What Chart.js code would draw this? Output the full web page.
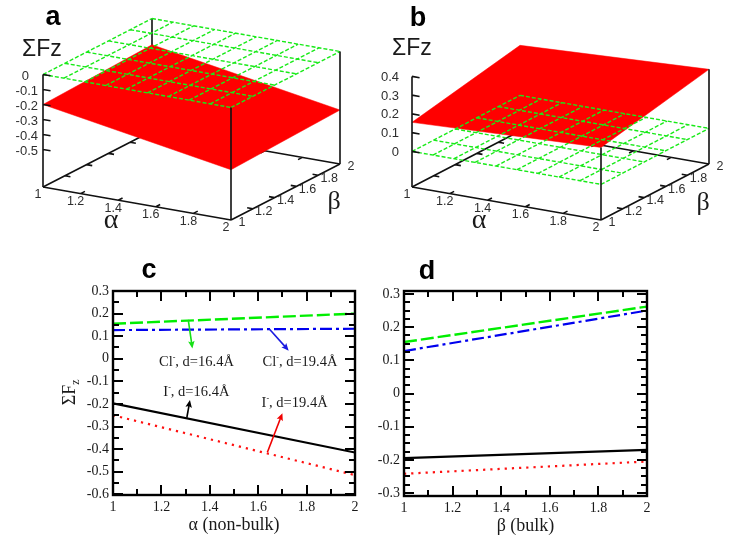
<!DOCTYPE html>
<html><head><meta charset="utf-8">
<script src="https://cdn.jsdelivr.net/npm/chart.js@4/dist/chart.umd.min.js"></script>
<style>
html,body{margin:0;padding:0;background:#fff;width:729px;height:540px;overflow:hidden}
.p{position:absolute}
</style></head><body>
<div class="p" style="left:0;top:0;width:365px;height:240px"><canvas id="ca" width="365" height="240"></canvas></div>
<div class="p" style="left:365px;top:0;width:364px;height:240px"><canvas id="cb" width="364" height="240"></canvas></div>
<div class="p" style="left:60px;top:260px;width:310px;height:280px"><canvas id="cc" width="310" height="280"></canvas></div>
<div class="p" style="left:370px;top:260px;width:300px;height:280px"><canvas id="cd" width="300" height="280"></canvas></div>
<script>
// ---- data ----
const gridTicks3D = [1, 1.2, 1.4, 1.6, 1.8, 2];
const zTicksA = [0, -0.1, -0.2, -0.3, -0.4, -0.5];
const zTicksB = [0, 0.1, 0.2, 0.3, 0.4];
// surface heights at (α,β) = (1,1), (2,1), (2,2), (1,2)
const surfaceA = [-0.2, -0.415, -0.39, -0.175];
const surfaceB = [0.155, 0.197, 0.315, 0.267];
const gridPlaneZ = 0;
const gridCellsAlpha = 9, gridCellsBeta = 5;

const alphaValues = [1, 2];
const cBlack = [-0.197, -0.415];
const cRed   = [-0.25, -0.515];
const cGreen = [0.155, 0.2];
const cBlue  = [0.127, 0.133];
const betaValues = [1, 2];
const dBlack = [-0.195, -0.17];
const dRed   = [-0.242, -0.205];
const dGreen = [0.155, 0.262];
const dBlue  = [0.128, 0.25];
const xTicks = [1, 1.2, 1.4, 1.6, 1.8, 2];
const xMinorTicks = [1, 1.1, 1.2, 1.3, 1.4, 1.5, 1.6, 1.7, 1.8, 1.9, 2];
const yTicksC = [-0.6, -0.5, -0.4, -0.3, -0.2, -0.1, 0, 0.1, 0.2, 0.3];
const yTicksD = [-0.3, -0.2, -0.1, 0, 0.1, 0.2, 0.3];

// ---- 3D panels ----
const SANS = '"Liberation Sans", Arial, sans-serif';
const SERIF = '"Liberation Serif", "Times New Roman", serif';
const GREEN3D = '#18ea18', RED = '#ff0000';

function panel3D(id, cfg) {
  const P = (a, b, z) => ({
    x: cfg.origin[0] + (a - 1) * cfg.vA[0] + (b - 1) * cfg.vB[0],
    y: cfg.origin[1] + (a - 1) * cfg.vA[1] + (b - 1) * cfg.vB[1] - (z - cfg.zMin) * cfg.zScale
  });
  const gap = { x: null, y: null };
  const zb = cfg.zMin, tA = 0.03, tB = 0.04, tZ = 0.04;
  const back = [];
  [[P(1,1,zb), P(1,2,zb)], [P(1,2,zb), P(2,2,zb)]].forEach(s => back.push(s[0], s[1], gap));
  if (cfg.backTop !== null) back.push(P(1,2,zb), P(1,2,cfg.backTop), gap);
  gridTicks3D.forEach(v => {
    if (v > 1 && v < 2) {
      const k = P(1, v, zb); back.push(k, { x: k.x + tA*cfg.vA[0], y: k.y + tA*cfg.vA[1] }, gap);
      const m = P(v, 2, zb); back.push(m, { x: m.x - tB*cfg.vB[0], y: m.y - tB*cfg.vB[1] }, gap);
    }
  });
  const front = [];
  front.push(P(1,1,zb), P(2,1,zb), gap, P(2,1,zb), P(2,2,zb), gap);
  front.push(P(1,1,zb), P(1,1,cfg.leftTop), gap);
  front.push(P(2,1,zb), P(2,1,cfg.frontTop), gap);
  front.push(P(2,2,zb), P(2,2,cfg.rightTop), gap);
  cfg.zTicks.forEach(z => {
    const k = P(1,1,z); front.push(k, { x: k.x + tZ*cfg.vA[0], y: k.y + tZ*cfg.vA[1] }, gap);
  });
  gridTicks3D.forEach(v => {
    if (v > 1 && v < 2) {
      const k = P(v, 1, zb); front.push(k, { x: k.x + tB*cfg.vB[0], y: k.y + tB*cfg.vB[1] }, gap);
      const m = P(2, v, zb); front.push(m, { x: m.x - tA*cfg.vA[0], y: m.y - tA*cfg.vA[1] }, gap);
    }
  });
  const grid = [];
  for (let i = 0; i <= gridCellsAlpha; i++) {
    const a = 1 + i / gridCellsAlpha; grid.push(P(a,1,gridPlaneZ), P(a,2,gridPlaneZ), gap);
  }
  for (let j = 0; j <= gridCellsBeta; j++) {
    const b = 1 + j / gridCellsBeta; grid.push(P(1,b,gridPlaneZ), P(2,b,gridPlaneZ), gap);
  }
  const S = cfg.surface;
  const surf = [P(1,1,S[0]), P(2,1,S[1]), P(2,2,S[2]), P(1,2,S[3]), P(1,1,S[0])];

  const base = { showLine: true, pointRadius: 0, pointHoverRadius: 0, tension: 0 };
  const labels3D = {
    id: 'labels3D',
    afterDraw(ch) {
      const c = ch.ctx, X = ch.scales.x, Y = ch.scales.y;
      const put = (txt, px, py, font, color, align, bl) => {
        c.font = font; c.fillStyle = color; c.textAlign = align || 'center'; c.textBaseline = bl || 'middle';
        c.fillText(txt, X.getPixelForValue(px), Y.getPixelForValue(py));
      };
      c.save();
      const tf = '12.5px ' + SANS, col = '#2e2e2e';
      gridTicks3D.forEach(v => {
        const p = P(v, 1, zb); put(String(v), p.x - 5, p.y + 8, tf, col);
        const q = P(2, v, zb); put(String(v), q.x + 11, q.y + 3, tf, col);
      });
      cfg.zTicks.forEach(z => {
        const p = P(1,1,z);
        const x = z === 0 ? cfg.zeroX : cfg.zLabelRight;
        put(String(z), x, p.y + cfg.zLabelDy, '13px ' + SANS, col, 'right');
      });
      put(cfg.letter, cfg.letterPos[0], cfg.letterPos[1], 'bold 27px ' + SANS, '#000');
      put('ΣFz', cfg.titlePos[0], cfg.titlePos[1], '23px ' + SANS, '#1a1a1a', 'left', 'alphabetic');
      put('α', cfg.alphaPos[0], cfg.alphaPos[1], '28px ' + SERIF, '#1a1a1a');
      put('β', cfg.betaPos[0], cfg.betaPos[1], '26px ' + SERIF, '#1a1a1a');
      c.restore();
    }
  };
  new Chart(document.getElementById(id), {
    type: 'scatter',
    data: { datasets: [
      { ...base, data: front, borderColor: '#111', borderWidth: 1.6, order: 1 },
      { ...base, data: grid, borderColor: GREEN3D, borderWidth: 1.4, borderDash: [4, 2], order: 2 },
      { ...base, data: surf, borderColor: RED, borderWidth: 0.5, backgroundColor: RED, fill: 'shape', order: 3 },
      { ...base, data: back, borderColor: '#111', borderWidth: 1.6, order: 4 }
    ]},
    options: {
      responsive: false, animation: false,
      layout: { padding: 0 },
      plugins: { legend: { display: false }, tooltip: { enabled: false } },
      scales: {
        x: { type: 'linear', display: false, min: cfg.xr[0], max: cfg.xr[1] },
        y: { type: 'linear', display: false, min: 0, max: 240, reverse: true }
      }
    },
    plugins: [labels3D]
  });
}

panel3D('ca', {
  origin: [43, 187], vA: [188, 33], vB: [109, -56], zMin: -0.75, zScale: 150,
  zTicks: zTicksA, surface: surfaceA, xr: [0, 365],
  backTop: 0, leftTop: 0, frontTop: 0, rightTop: 0,
  zLabelRight: 38, zeroX: 29, zLabelDy: 2,
  letter: 'a', letterPos: [53, 18], titlePos: [22, 56], alphaPos: [111, 221], betaPos: [334, 202]
});
panel3D('cb', {
  origin: [412, 187], vA: [189, 33], vB: [108, -56], zMin: -0.19, zScale: 187.5,
  zTicks: zTicksB, surface: surfaceB, xr: [365, 729],
  backTop: null, leftTop: 0.4, frontTop: surfaceB[1], rightTop: surfaceB[2],
  zLabelRight: 399, zeroX: 399, zLabelDy: 1,
  letter: 'b', letterPos: [418, 19], titlePos: [392, 55], alphaPos: [479, 221], betaPos: [703, 203]
});

// ---- line panels ----
const yMinorC = [-0.6,-0.55,-0.5,-0.45,-0.4,-0.35,-0.3,-0.25,-0.2,-0.15,-0.1,-0.05,0,0.05,0.1,0.15,0.2,0.25,0.3];
const yMinorD = [-0.3,-0.275,-0.25,-0.225,-0.2,-0.175,-0.15,-0.125,-0.1,-0.075,-0.05,-0.025,0,0.025,0.05,0.075,0.1,0.125,0.15,0.175,0.2,0.225,0.25,0.275,0.3];

const annotC = [
  { t: ['Cl', ', d=16.4Å'], x: 1.19, y: -0.031 },
  { t: ['Cl', ', d=19.4Å'], x: 1.618, y: -0.031 },
  { t: ['I', ', d=16.4Å'], x: 1.208, y: -0.163 },
  { t: ['I', ', d=19.4Å'], x: 1.614, y: -0.215 }
];
const arrowsC = [
  { c: '#16e016', from: [1.311, 0.172], to: [1.328, 0.046] },
  { c: '#1a1ae0', from: [1.646, 0.132], to: [1.726, 0.036] },
  { c: '#000000', from: [1.305, -0.261], to: [1.318, -0.183] },
  { c: '#f00000', from: [1.638, -0.414], to: [1.70, -0.241] }
];

function linePanel(id, cfg) {
  const xs = cfg.xs;
  const mk = (vals, color, dash, w, ord) => ({
    data: xs.map((x, i) => ({ x, y: vals[i] })), showLine: true, pointRadius: 0, borderColor: color,
    borderWidth: w, borderDash: dash, order: ord, tension: 0
  });
  const frame = {
    id: 'frame',
    afterDraw(ch) {
      const c = ch.ctx, A = ch.chartArea, X = ch.scales.x, Y = ch.scales.y;
      c.save();
      c.setLineDash([]);
      c.strokeStyle = '#000000';
      c.lineWidth = 2.4;
      c.strokeRect(A.left, A.top, A.right - A.left, A.bottom - A.top);
      // inward ticks, painted last over the frame
      c.lineWidth = 2;
      const seg = (x0, y0, x1, y1) => { c.beginPath(); c.moveTo(x0, y0); c.lineTo(x1, y1); c.stroke(); };
      xMinorTicks.forEach((v, i) => {
        const p = Math.round(X.getPixelForValue(v)), l = i % 2 === 0 ? 10 : 6;
        seg(p, A.bottom, p, A.bottom - l);
        seg(p, A.top, p, A.top + l);
      });
      cfg.yMinor.forEach(v => {
        const p = Math.round(Y.getPixelForValue(v));
        const l = Math.abs(v * 10 - Math.round(v * 10)) < 1e-6 ? 10 : 6;
        seg(A.left, p, A.left + l, p);
        seg(A.right, p, A.right - l, p);
      });
      // arrows
      (cfg.arrows || []).forEach(a => {
        const x0 = X.getPixelForValue(a.from[0]), y0 = Y.getPixelForValue(a.from[1]);
        const x1 = X.getPixelForValue(a.to[0]), y1 = Y.getPixelForValue(a.to[1]);
        const ang = Math.atan2(y1 - y0, x1 - x0);
        c.strokeStyle = a.c; c.fillStyle = a.c; c.lineWidth = 1.6;
        c.beginPath(); c.moveTo(x0, y0); c.lineTo(x1 - 4 * Math.cos(ang), y1 - 4 * Math.sin(ang)); c.stroke();
        c.beginPath(); c.moveTo(x1, y1);
        c.lineTo(x1 - 8 * Math.cos(ang - 0.42), y1 - 8 * Math.sin(ang - 0.42));
        c.lineTo(x1 - 6 * Math.cos(ang), y1 - 6 * Math.sin(ang));
        c.lineTo(x1 - 8 * Math.cos(ang + 0.42), y1 - 8 * Math.sin(ang + 0.42));
        c.closePath(); c.fill();
      });
      // annotations
      c.fillStyle = '#1a1a1a'; c.textBaseline = 'alphabetic'; c.textAlign = 'left';
      (cfg.annot || []).forEach(a => {
        let px = X.getPixelForValue(a.x); const py = Y.getPixelForValue(a.y);
        c.font = '14.5px ' + SERIF; c.fillText(a.t[0], px, py); px += c.measureText(a.t[0]).width;
        c.font = '8px ' + SERIF; c.fillText('-', px, py - 6); px += c.measureText('-').width;
        c.font = '14.5px ' + SERIF; c.fillText(a.t[1], px, py);
      });
      // panel letter
      c.fillStyle = '#000'; c.textAlign = 'center'; c.textBaseline = 'middle';
      c.font = 'bold 27px ' + SANS; c.fillText(cfg.letter, cfg.letterPos[0], cfg.letterPos[1]);
      // rotated ΣFz title
      if (cfg.yTitleX) {
        c.save();
        c.translate(cfg.yTitleX, (A.top + A.bottom) / 2 - 1);
        c.rotate(-Math.PI / 2);
        c.fillStyle = '#1a1a1a'; c.textAlign = 'left'; c.textBaseline = 'alphabetic';
        c.font = '18px ' + SERIF; const w = c.measureText('ΣF').width;
        c.fillText('ΣF', -w / 2 - 3, 6);
        c.font = '12px ' + SERIF; c.fillText('z', w / 2 - 3, 10);
        c.restore();
      }
      c.restore();
    }
  };
  const fix = vals => s => { s.ticks = vals.map(v => ({ value: v })); };
  new Chart(document.getElementById(id), {
    type: 'scatter',
    data: { datasets: [
      mk(cfg.black, '#000000', [], 2.2, 1),
      mk(cfg.red, '#ff1010', [2.2, 5], 2.2, 2),
      mk(cfg.green, '#00ee00', [13, 4], 2.4, 3),
      mk(cfg.blue, '#0000ee', [12, 4, 3, 4], 2.2, 4)
    ]},
    options: {
      responsive: false, animation: false,
      layout: { padding: { left: 0, top: cfg.padTop, right: cfg.padRight, bottom: 0 } },
      plugins: { legend: { display: false }, tooltip: { enabled: false } },
      scales: {
        x: {
          type: 'linear', min: 1, max: 2,
          grid: { display: false, drawTicks: false }, border: { display: false },
          afterBuildTicks: fix(xTicks),
          afterFit: s => { s.height = cfg.xH; },
          ticks: { autoSkip: false, maxRotation: 0, padding: 4, color: '#1a1a1a', font: { family: SERIF, size: 14 }, callback: v => String(v) },
          title: { display: true, text: cfg.xTitle, color: '#1a1a1a', font: { family: SERIF, size: 18 }, padding: { top: 2, bottom: cfg.titleBottom } }
        },
        y: {
          type: 'linear', min: cfg.yMin, max: cfg.yMax,
          grid: { display: false, drawTicks: false }, border: { display: false },
          afterBuildTicks: fix(cfg.yTicks),
          afterFit: s => { s.width = cfg.yW; },
          ticks: { autoSkip: false, padding: 4, color: '#1a1a1a', font: { family: SERIF, size: 14 },
            callback: v => Math.abs(v) < 1e-9 ? '0' : (+v).toFixed(1) }
        }
      }
    },
    plugins: [frame]
  });
}

linePanel('cc', {
  xs: alphaValues, black: cBlack, red: cRed, green: cGreen, blue: cBlue,
  yTicks: yTicksC, yMinor: yMinorC, yMin: -0.603, yMax: 0.3,
  padTop: 31, padRight: 15, xH: 45, yW: 53, xTitle: 'α (non-bulk)', titleBottom: 4,
  letter: 'c', letterPos: [89, 11], yTitleX: 9, annot: annotC, arrows: arrowsC
});
linePanel('cd', {
  xs: betaValues, black: dBlack, red: dRed, green: dGreen, blue: dBlue,
  yTicks: yTicksD, yMinor: yMinorD, yMin: -0.309, yMax: 0.309,
  padTop: 31, padRight: 23, xH: 44, yW: 34, xTitle: 'β (bulk)', titleBottom: 3,
  letter: 'd', letterPos: [57, 12]
});
</script>
</body></html>
